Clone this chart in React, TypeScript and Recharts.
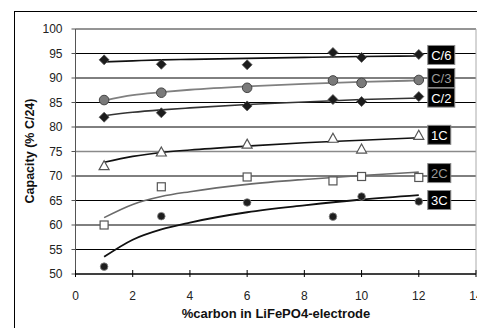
import React from 'react';
import { ComposedChart, Line, Scatter, XAxis, YAxis, CartesianGrid, ReferenceLine } from 'recharts';

// measured points
const carbon = [1, 3, 6, 9, 10, 12];
const capC6 = [93.7, 92.8, 92.7, 95.2, 94.2, 94.8];
const capC3 = [85.5, 87.0, 88.0, 89.5, 89.0, 89.6];
const capC2 = [82.0, 82.9, 84.3, 85.6, 85.2, 86.2];
const cap1C = [72.1, 74.9, 76.5, 77.7, 75.5, 78.3];
const cap2C = [60.0, 67.8, 69.8, 69.0, 69.9, 69.7];
const cap3C = [51.5, 61.8, 64.6, 61.7, 65.8, 64.8];

// trend lines
const trendX = [1, 2, 3, 4, 6, 8, 10, 12];
const trendC6 = [93.3, 93.5, 93.7, 93.8, 94.0, 94.2, 94.4, 94.5];
const trendC3 = [85.4, 86.5, 87.1, 87.6, 88.3, 88.8, 89.2, 89.5];
const trendC2 = [82.3, 83.0, 83.5, 83.9, 84.6, 85.1, 85.6, 85.9];
const trend1C = [72.8, 74.0, 74.8, 75.3, 76.1, 76.8, 77.3, 77.8];
const trend2C = [61.5, 64.2, 65.8, 66.8, 68.3, 69.3, 70.1, 70.8];
const trend3C = [53.5, 57.0, 59.1, 60.5, 62.6, 64.0, 65.2, 66.1];

const rateNames = ['C/6', 'C/3', 'C/2', '1C', '2C', '3C'];
const labelY = [94.7, 90.0, 86.0, 78.4, 70.6, 65.1];
const labelText = ['#fff', '#9a9a9a', '#fff', '#fff', '#9a9a9a', '#fff'];

const xTicks = [0, 2, 4, 6, 8, 10, 12, 14];
const yTicks = [50, 55, 60, 65, 70, 75, 80, 85, 90, 95, 100];

const FONT = '"Liberation Sans", Arial, sans-serif';

const pts = (ys: number[]) => carbon.map((x, i) => ({ x, y: ys[i] }));
const trend = (ys: number[]) => trendX.map((x, i) => ({ x, y: ys[i] }));

const labels = rateNames.map((name, i) => ({ x: 12, y: labelY[i], name, fg: labelText[i] }));

const Diamond = (p: any) => (
  <polygon
    points={`${p.cx},${p.cy - 5} ${p.cx + 5},${p.cy} ${p.cx},${p.cy + 5} ${p.cx - 5},${p.cy}`}
    fill="#1c1c1c"
    stroke="#555"
    strokeWidth={0.8}
  />
);
const GrayDot = (p: any) => <circle cx={p.cx} cy={p.cy} r={4.8} fill="#7a7a7a" stroke="#444" strokeWidth={1} />;
const DarkDot = (p: any) => <circle cx={p.cx} cy={p.cy} r={3.8} fill="#1e1e1e" stroke="#888" strokeWidth={0.8} />;
const Tri = (p: any) => (
  <polygon
    points={`${p.cx},${p.cy - 5} ${p.cx + 5},${p.cy + 4} ${p.cx - 5},${p.cy + 4}`}
    fill="#fff"
    stroke="#555"
    strokeWidth={1.2}
  />
);
const Sq = (p: any) => (
  <rect x={p.cx - 4} y={p.cy - 4} width={8} height={8} fill="#fff" stroke="#555" strokeWidth={1.2} />
);

const TagBox = (p: any) => {
  const d = p.payload;
  const w = d.name.startsWith('C/') ? 27 : 23;
  return (
    <g>
      <rect x={p.cx + 9} y={p.cy - 9.5} width={w} height={19} fill="#000" stroke="#888" strokeWidth={1} />
      <text x={p.cx + 9 + w / 2} y={p.cy + 5} textAnchor="middle" fontSize={13} fontFamily={FONT} fill={d.fg}>
        {d.name}
      </text>
    </g>
  );
};

const XTick = (p: any) => (
  <g>
    <line x1={p.x} x2={p.x} y1={p.y - 4} y2={p.y + 3} stroke="#000" strokeWidth={1} />
    <text x={p.x} y={p.y + 25.5} textAnchor="middle" fontSize={12} fontFamily={FONT} fill="#222">
      {p.payload.value}
    </text>
  </g>
);

export default function App() {
  return (
    <div style={{ position: 'absolute', left: 0, top: 0, width: 477, height: 328, overflow: 'hidden', background: '#fff' }}>
      <div style={{ position: 'absolute', left: 14, top: 11, width: 480, height: 330, border: '1.5px solid #000' }} />
      <div style={{ position: 'absolute', left: 0, top: 0 }}>
        <ComposedChart width={477} height={328} margin={{ top: 29, right: 1, bottom: 0, left: 0 }}>
          <CartesianGrid vertical={false} stroke="#000" strokeWidth={1} />
          <ReferenceLine y={75} stroke="#8a8a8a" strokeWidth={1.5} />
          <ReferenceLine y={100} stroke="#aaa" strokeWidth={1} />
          <ReferenceLine x={14} stroke="#aaa" strokeWidth={1} />
          <XAxis
            type="number"
            dataKey="x"
            domain={[0, 14]}
            ticks={xTicks}
            interval={0}
            height={54}
            tickSize={0}
            tickMargin={0}
            tickLine={false}
            tick={<XTick />}
            stroke="#000"
            allowDataOverflow
            label={{
              content: () => (
                <text x={276} y={318} textAnchor="middle" fontSize={13} fontWeight="bold" fontFamily={FONT} fill="#111">
                  %carbon in LiFePO4-electrode
                </text>
              ),
            }}
          />
          <YAxis
            type="number"
            dataKey="y"
            domain={[50, 100]}
            ticks={yTicks}
            interval={0}
            width={75.5}
            tickSize={4}
            tickMargin={9}
            stroke="#555"
            tick={{ fontSize: 12, fontFamily: FONT, fill: '#222' }}
            allowDataOverflow
            label={{
              content: () => (
                <text
                  x={34}
                  y={151}
                  transform="rotate(-90 34 151)"
                  textAnchor="middle"
                  fontSize={12.5}
                  fontWeight="bold"
                  fontFamily={FONT}
                  fill="#111"
                >
                  Capacity (% C/24)
                </text>
              ),
            }}
          />
          <Line data={trend(trendC6)} dataKey="y" type="monotone" stroke="#111" strokeWidth={1.6} dot={false} isAnimationActive={false} />
          <Line data={trend(trendC3)} dataKey="y" type="monotone" stroke="#808080" strokeWidth={1.8} dot={false} isAnimationActive={false} />
          <Line data={trend(trendC2)} dataKey="y" type="monotone" stroke="#333" strokeWidth={1.6} dot={false} isAnimationActive={false} />
          <Line data={trend(trend1C)} dataKey="y" type="monotone" stroke="#111" strokeWidth={1.6} dot={false} isAnimationActive={false} />
          <Line data={trend(trend2C)} dataKey="y" type="monotone" stroke="#6a6a6a" strokeWidth={1.6} dot={false} isAnimationActive={false} />
          <Line data={trend(trend3C)} dataKey="y" type="monotone" stroke="#111" strokeWidth={1.8} dot={false} isAnimationActive={false} />
          <Scatter data={pts(capC6)} dataKey="y" shape={Diamond} isAnimationActive={false} />
          <Scatter data={pts(capC3)} dataKey="y" shape={GrayDot} isAnimationActive={false} />
          <Scatter data={pts(capC2)} dataKey="y" shape={Diamond} isAnimationActive={false} />
          <Scatter data={pts(cap1C)} dataKey="y" shape={Tri} isAnimationActive={false} />
          <Scatter data={pts(cap2C)} dataKey="y" shape={Sq} isAnimationActive={false} />
          <Scatter data={pts(cap3C)} dataKey="y" shape={DarkDot} isAnimationActive={false} />
          <Scatter data={labels} dataKey="y" shape={TagBox} isAnimationActive={false} />
        </ComposedChart>
      </div>
    </div>
  );
}
